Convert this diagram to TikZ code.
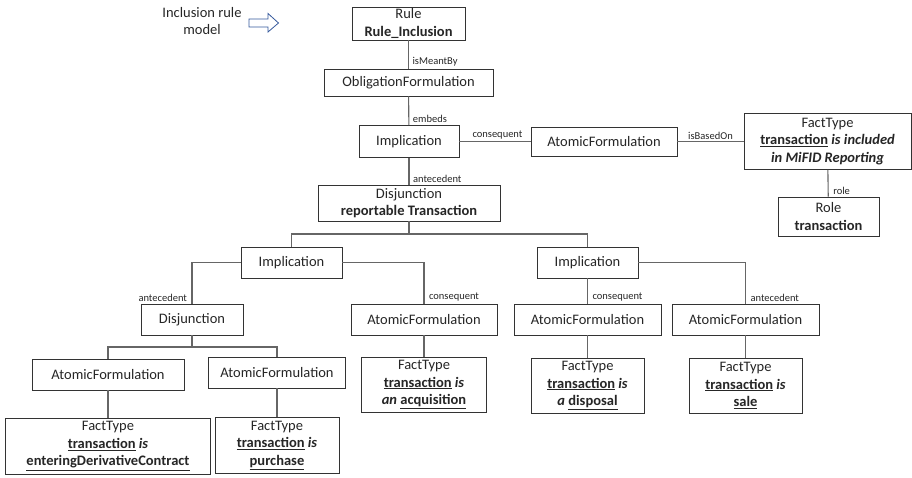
\documentclass[tikz,border=0pt]{standalone}
\usepackage{fontspec}
\setmainfont{Carlito}
\usetikzlibrary{positioning}

\definecolor{arrowblue}{RGB}{52,88,156}

\begin{document}
\begin{tikzpicture}[x=1pt, y=-1pt,
    box/.style={draw=black!80, line width=0.9pt, fill=white, align=center,
        inner sep=1pt, text=black!85, font=\fontsize{14.5}{17.5}\selectfont},
    sz/.style 2 args={minimum width=#1, minimum height=#2},
    link/.style={draw=black!60, line width=1.1pt},
    lbl/.style={inner sep=1.5pt, text=black!85, font=\fontsize{10.5}{12}\selectfont}]
    \useasboundingbox (0,0) rectangle (912,477);

    % heading and block arrow
    \node[text=black!85, align=center, font=\fontsize{14.5}{17}\selectfont] (incl) at (202,21) {Inclusion rule\\model};
    \draw[arrowblue, line width=0.8pt, fill=white] (249,19) -- (268,19) -- (268,13.5) -- (278.5,23)
        -- (268,32) -- (268,27) -- (249,27) -- cycle;

    % upper chain
    \node[box, sz={113}{33}] (rule) at (408.5,23.5) {Rule\\\textbf{Rule\_Inclusion}};
    \node[box, sz={169}{27}] (oblig) at (408.5,82.5) {ObligationFormulation};
    \node[box, sz={100}{32}] (impl) at (409,141.5) {Implication};
    \node[box, sz={146}{29}] (atom) at (604,141.5) {AtomicFormulation};
    \node[box, sz={167}{56}] (fact) at (827.5,141.5) {FactType\\\textbf{\underline{transaction} \textit{is included}}\\\textbf{\textit{in MiFID Reporting}}};
    \node[box, sz={101}{39}] (role) at (828.5,216.5) {Role\\\textbf{transaction}};
    \node[box, sz={182}{36}] (disj) at (409,203) {Disjunction\\\textbf{reportable Transaction}};

    % second level
    \node[box, sz={101}{31}] (implL) at (291.5,262.5) {Implication};
    \node[box, sz={101}{31}] (implR) at (587.5,262.5) {Implication};
    \node[box, sz={102}{31}] (disjS) at (192,319.5) {Disjunction};
    \node[box, sz={146}{31}] (atomL) at (424,319.5) {AtomicFormulation};
    \node[box, sz={147}{31}] (atomM) at (587.5,319.5) {AtomicFormulation};
    \node[box, sz={147}{31}] (atomR) at (745.5,319.5) {AtomicFormulation};
    \node[box, sz={152}{31}] (atomLL) at (108,374.5) {AtomicFormulation};
    \node[box, sz={137}{31}] (atomLM) at (277,372.5) {AtomicFormulation};

    % fact types
    \node[box, sz={205}{56}] (factEnter) at (108,446) {FactType\\\textbf{\underline{transaction} \textit{is}}\\\textbf{\underline{enteringDerivativeContract}}};
    \node[box, sz={124}{56}] (factBuy) at (277,445) {FactType\\\textbf{\underline{transaction} \textit{is}}\\\textbf{\underline{purchase}}};
    \node[box, sz={125}{55}] (factAcq) at (424,384.5) {FactType\\\textbf{\underline{transaction} \textit{is}}\\\textbf{\textit{an} \underline{acquisition}}};
    \node[box, sz={113}{55}] (factDisp) at (587.5,385.5) {FactType\\\textbf{\underline{transaction} \textit{is}}\\\textbf{\textit{a} \underline{disposal}}};
    \node[box, sz={113}{55}] (factSale) at (745.5,385.5) {FactType\\\textbf{\underline{transaction} \textit{is}}\\\textbf{\underline{sale}}};

    % links
    \draw[link] (rule) -- node[lbl, pos=1, anchor=south west, xshift=2] (lMeant) {isMeantBy} (oblig);
    \draw[link] (oblig) -- node[lbl, pos=1, anchor=south west, xshift=2] (lEmbeds) {embeds} (impl);
    \draw[link] (impl) -- node[lbl, pos=0, anchor=south west, xshift=11] (lCons) {consequent} (atom);
    \draw[link] (atom) -- node[lbl, above] (lBased) {isBasedOn} (fact);
    \draw[link] (fact) -- node[lbl, pos=1, anchor=south west, xshift=3] (lRole) {role} (role);
    \draw[link] (impl) -- node[lbl, pos=1, anchor=south west, xshift=2] (lAnte) {antecedent} (disj);

    \coordinate (fork) at (409,234);
    \draw[link] (disj) -- (fork);
    \draw[link] (implL) |- (fork) -| (implR);
    \draw[link] (implL) -| node[lbl, pos=1, anchor=south east, xshift=-3] (lAnteL) {antecedent} (disjS);
    \draw[link] (implL) -| node[lbl, pos=1, anchor=south west, xshift=3] (lConsL) {consequent} (atomL);
    \draw[link] (implR) -- node[lbl, pos=1, anchor=south west, xshift=3] (lConsR) {consequent} (atomM);
    \draw[link] (implR) -| node[lbl, pos=1, anchor=south west, xshift=3] (lAnteR) {antecedent} (atomR);

    \coordinate (fork2) at (192,347);
    \draw[link] (disjS) -- (fork2);
    \draw[link] (atomLL) |- (fork2) -| (atomLM);
    \foreach \a/\b in {atomLL/factEnter, atomLM/factBuy, atomL/factAcq, atomM/factDisp, atomR/factSale}
        \draw[link] (\a) -- (\b);
\end{tikzpicture}
\end{document}
